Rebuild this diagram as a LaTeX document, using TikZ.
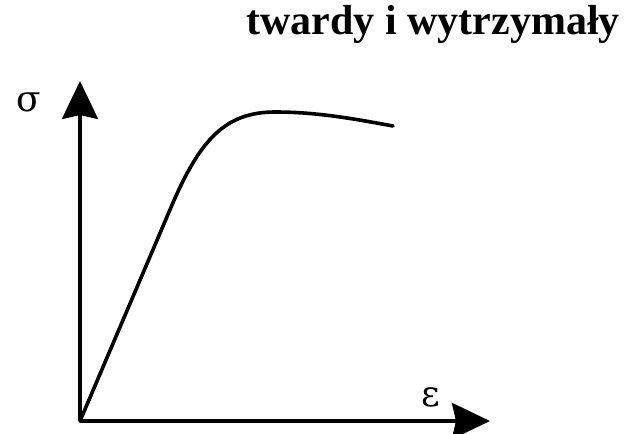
\documentclass[tikz,border=0pt]{standalone}
\usepackage{fontspec}
\setmainfont{Liberation Serif}
\newfontfamily\symfont{DejaVu Serif}
\usetikzlibrary{arrows.meta}

\begin{document}
\begin{tikzpicture}[
  x=1pt, y=-1pt,
  axis/.style  = {line width=3.6pt, -{Stealth[length=38pt, width=36pt, inset=4pt]}},
  curv/.style  = {line width=3.6pt, line cap=round, line join=round},
  lbl/.style   = {font=\symfont\fontsize{36}{36}\selectfont, inner sep=0pt},
  ttl/.style   = {font=\fontsize{42}{42}\selectfont\bfseries, inner sep=0pt}
]
\useasboundingbox (0,0) rectangle (630,434);

% punkty osi
\coordinate (o)  at (80,421);
\coordinate (yt) at (80,81);
\coordinate (xt) at (490,421);

% osie
\draw[axis] (o) -- (yt);
\draw[axis] (o) -- (xt);

% krzywa sigma-epsilon
\draw[curv] (o) -- (172,205)
  .. controls (200,140) and (225,112) .. (275,112)
  .. controls (315,112) and (350,118) .. (393,126);

% opisy
\node[lbl] (sig) at (29,102) {σ};
\node[lbl] (eps) at (431,397) {ε};
\node[ttl, anchor=base east] (tytul) at (620,34) {twardy i wytrzymały};

\end{tikzpicture}
\end{document}
